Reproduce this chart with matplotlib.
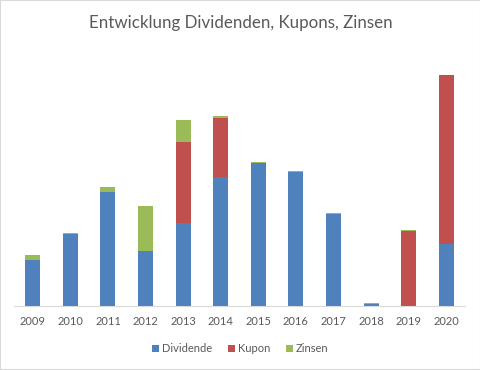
import numpy as np
import matplotlib.pyplot as plt
from matplotlib.patches import Rectangle

years = ["2009", "2010", "2011", "2012", "2013", "2014",
         "2015", "2016", "2017", "2018", "2019", "2020"]
dividende = [46, 72, 114, 55, 83, 129, 143, 134, 92, 2.3, 0, 62]
kupon = [0, 0, 0, 0, 81, 59, 0, 0, 0, 0, 75, 169]
zinsen = [5, 1, 5, 45, 22, 2.5, 1, 1, 0.8, 0.6, 0.8, 0]

BLUE = "#4F81BD"
RED = "#C0504D"
GREEN = "#9BBB59"
TEXT = "#595959"

plt.rcParams["font.family"] = ["Lato", "DejaVu Sans"]

W, H = 481, 370
fig = plt.figure(figsize=(W / 100, H / 100), dpi=100)
fig.patches.append(Rectangle((0, 0), 1, 1, transform=fig.transFigure,
                             fill=False, edgecolor="#D9D9D9", linewidth=1.5))

ax = fig.add_axes([14 / W, (H - 306) / H, (465 - 14) / W, (306 - 60) / H])

x = np.arange(len(years))
div = np.array(dividende)
kup = np.array(kupon)
zin = np.array(zinsen)
width = 0.4

ax.bar(x, div, width, color=BLUE, label="Dividende")
ax.bar(x, kup, width, bottom=div, color=RED, label="Kupon")
ax.bar(x, zin, width, bottom=div + kup, color=GREEN, label="Zinsen")

ax.set_xlim(-0.5, len(years) - 0.5)
ax.set_ylim(0, 246)
ax.set_xticks(x)
ax.set_xticklabels(years, fontsize=8, color=TEXT)
ax.tick_params(axis="x", length=0, pad=7)
ax.set_yticks([])
for side in ["top", "right", "left"]:
    ax.spines[side].set_visible(False)
ax.spines["bottom"].set_color("#D9D9D9")

fig.text(0.5, 1 - 23 / H, "Entwicklung Dividenden, Kupons, Zinsen",
         ha="center", va="center", fontsize=12.2, color=TEXT)

fig.legend(loc="center", bbox_to_anchor=(0.5, 1 - 349 / H), ncol=3,
           frameon=False, fontsize=8, handlelength=0.6, handleheight=0.6,
           handletextpad=0.3, columnspacing=1.4, labelcolor=TEXT)

fig.savefig("out.png", dpi=100)
